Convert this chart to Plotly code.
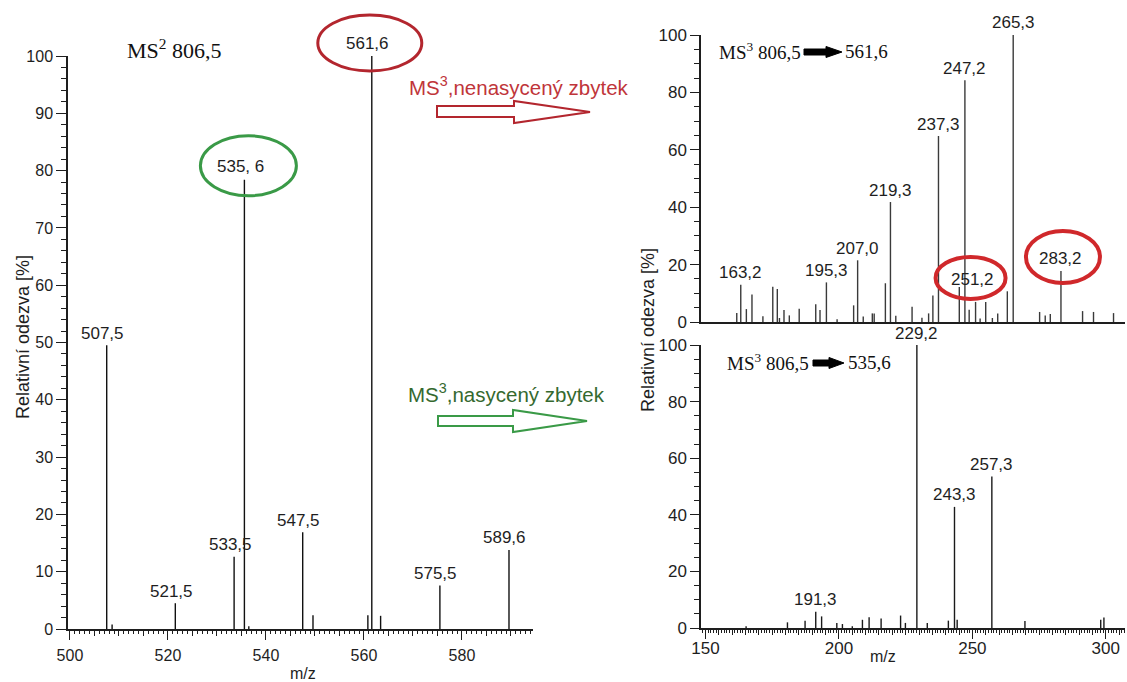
import plotly.graph_objects as go

W, H = 1127, 682

# ---- MS2 spectrum of precursor 806,5 ----
ms2_mz = [507.5, 508.6, 521.5, 533.5, 535.6, 536.5, 547.5, 549.6,
          560.8, 561.6, 563.4, 575.5, 589.6]
ms2_int = [49.5, 0.8, 4.5, 12.6, 78.4, 0.5, 16.9, 2.4,
           2.4, 100.0, 2.3, 7.6, 13.8]
ms2_lab_mz = [507.5, 521.5, 533.5, 535.6, 547.5, 561.6, 575.5, 589.6]
ms2_lab_text = ["507,5", "521,5", "533,5", "535, 6", "547,5", "561,6", "575,5", "589,6"]

# ---- MS3 806,5 -> 561,6 (unsaturated residue) ----
ms3a_mz = [161.7, 163.2, 165.3, 167.4, 171.5, 175.2, 176.9, 177.7, 179.4, 181.4,
           185.1, 191.3, 192.9, 195.3, 199.3, 205.5, 207.0, 209.1, 212.5, 213.2,
           217.4, 219.3, 221.3, 227.4, 231.1, 233.6, 235.2, 237.3, 245.1, 247.2,
           248.8, 251.2, 252.9, 255.0, 257.5, 259.5, 263.1, 265.3, 275.2, 277.3,
           279.2, 283.2, 291.3, 295.4, 302.9]
ms3a_int = [3.1, 13.0, 4.5, 9.6, 2.0, 12.3, 11.5, 1.4, 4.2, 2.3,
            4.6, 6.2, 4.2, 13.8, 1.0, 5.8, 21.5, 1.9, 3.0, 3.0,
            13.5, 41.8, 2.2, 5.3, 1.5, 3.0, 9.2, 64.8, 12.2, 84.2,
            4.3, 7.0, 1.2, 7.0, 1.4, 3.0, 10.7, 100.0, 3.5, 2.3,
            2.8, 17.8, 3.8, 3.5, 3.1]
ms3a_lab_mz = [163.2, 195.3, 207.0, 219.3, 237.3, 247.2, 251.2, 265.3, 283.2]
ms3a_lab_text = ["163,2", "195,3", "207,0", "219,3", "237,3", "247,2", "251,2", "265,3", "283,2"]

# ---- MS3 806,5 -> 535,6 (saturated residue) ----
ms3b_mz = [165.2, 180.7, 187.3, 191.3, 193.5, 199.2, 201.3, 205.0, 208.8, 211.3,
           215.8, 223.1, 224.9, 229.2, 233.1, 241.0, 243.3, 244.3, 257.3, 269.7,
           298.1, 299.3]
ms3b_int = [0.6, 2.0, 2.6, 5.7, 4.1, 1.8, 1.4, 0.6, 2.9, 3.8,
            3.4, 4.4, 1.8, 100.0, 1.8, 2.6, 42.8, 2.9, 53.5, 2.5,
            2.9, 3.7]
ms3b_lab_mz = [191.3, 229.2, 243.3, 257.3]
ms3b_lab_text = ["191,3", "229,2", "243,3", "257,3"]

# tick positions
left_x_labels = [500, 520, 540, 560, 580]
right_x_labels = [150, 200, 250, 300]

SANS = "Liberation Sans, Arial, sans-serif"
SERIF = "Liberation Serif, Times New Roman, serif"
INK = "#1e1e1e"

# panel geometry in pixels (left, right, top, bottom) and axis ranges
LEFT_BOX = (68, 533, 56, 629)
TOP_BOX = (701, 1125, 35, 322)
BOT_BOX = (701, 1125, 345, 628)
LEFT_RANGE = (499.6, 594.5)
RIGHT_RANGE = (148.3, 307.2)


def px(x):
    return x / W


def py(y):
    return 1 - y / H


def to_pixel(box, xr, m, v):
    l, r, t, b = box
    return (l + (m - xr[0]) * (r - l) / (xr[1] - xr[0]),
            b - v * (b - t) / 100.0)


def sticks(mz, inten):
    xs, ys = [], []
    for m, v in zip(mz, inten):
        xs += [m, m, None]
        ys += [0, v, None]
    return xs, ys


fig = go.Figure()

for (mz, it, xa, ya, col) in [
    (ms2_mz, ms2_int, "x", "y", "#111111"),
    (ms3a_mz, ms3a_int, "x2", "y2", "#3a3a3a"),
    (ms3b_mz, ms3b_int, "x3", "y3", "#1a1a1a"),
]:
    xs, ys = sticks(mz, it)
    fig.add_trace(go.Scatter(x=xs, y=ys, mode="lines", xaxis=xa, yaxis=ya,
                             line=dict(color=col, width=1.4),
                             hoverinfo="skip", showlegend=False))

# empty traces carrying the overlay axes used for the 5-unit ticks
fig.add_trace(go.Scatter(x=[], y=[], xaxis="x4", yaxis="y", showlegend=False, hoverinfo="skip"))
fig.add_trace(go.Scatter(x=[], y=[], xaxis="x5", yaxis="y3", showlegend=False, hoverinfo="skip"))

annotations = []
shapes = []


def peak_labels(lab_mz, lab_text, mz, it, xa, ya, xshift=0, special=None):
    lookup = dict(zip(mz, it))
    special = special or {}
    for m, t in zip(lab_mz, lab_text):
        ys, xs = special.get(m, (12, xshift))
        annotations.append(dict(x=m, y=lookup[m], xref=xa, yref=ya, text=t,
                                showarrow=False, xanchor="center", yanchor="middle",
                                yshift=ys, xshift=xs,
                                font=dict(family=SANS, size=17, color=INK)))


peak_labels(ms2_lab_mz, ms2_lab_text, ms2_mz, ms2_int, "x", "y", xshift=-4,
            special={535.6: (13, -4), 561.6: (13, -4)})
peak_labels(ms3a_lab_mz, ms3a_lab_text, ms3a_mz, ms3a_int, "x2", "y2",
            special={251.2: (22, -3)})
peak_labels(ms3b_lab_mz, ms3b_lab_text, ms3b_mz, ms3b_int, "x3", "y3")


# ellipses around highlighted fragments, placed relative to the peak tops
def ring(box, xr, mz, it, m, dx, dy, rx, ry, color, width):
    lookup = dict(zip(mz, it))
    cx, cy = to_pixel(box, xr, m, lookup[m])
    cx += dx
    cy -= dy
    shapes.append(dict(type="circle", xref="paper", yref="paper",
                       x0=px(cx - rx), x1=px(cx + rx), y0=py(cy + ry), y1=py(cy - ry),
                       line=dict(color=color, width=width)))


ring(LEFT_BOX, LEFT_RANGE, ms2_mz, ms2_int, 561.6, -2, 13, 52, 28, "#b3262e", 3)
ring(LEFT_BOX, LEFT_RANGE, ms2_mz, ms2_int, 535.6, 4, 14, 48, 30, "#3a9a47", 3)
ring(TOP_BOX, RIGHT_RANGE, ms3a_mz, ms3a_int, 251.2, -5, 24, 35, 21, "#d0282b", 4)
ring(TOP_BOX, RIGHT_RANGE, ms3a_mz, ms3a_int, 283.2, 2, 14, 37, 26, "#d0282b", 4)


def poly(points, line_color, fill, width):
    d = "M " + " L ".join(f"{px(a):.5f},{py(b):.5f}" for a, b in points) + " Z"
    shapes.append(dict(type="path", xref="paper", yref="paper", path=d,
                       line=dict(color=line_color, width=width), fillcolor=fill))


# hollow arrows pointing to the MS3 spectra
poly([(437, 106), (514, 106), (514, 101), (590, 112), (514, 123), (514, 117), (437, 117)],
     "#b3262e", "white", 2)
poly([(438, 416), (513, 416), (513, 410), (587, 421), (513, 432), (513, 426), (438, 426)],
     "#3a9a47", "white", 2)

# solid arrows in the MS3 titles
poly([(804, 49), (826, 49), (826, 46.5), (842, 52), (826, 57.5), (826, 55), (804, 55)],
     "#000000", "#000000", 1)
poly([(813, 360), (829, 360), (829, 357.5), (844, 363), (829, 368.5), (829, 366), (813, 366)],
     "#000000", "#000000", 1)


def text(x, y, t, size, color=INK, family=SANS, xanchor="center", angle=0):
    annotations.append(dict(x=px(x), y=py(y), xref="paper", yref="paper", text=t,
                            showarrow=False, xanchor=xanchor, yanchor="middle",
                            textangle=angle, font=dict(family=family, size=size, color=color)))


text(174, 49, "MS<sup>2</sup> 806,5", 22, "#111111", SERIF)
text(803, 51, "MS<sup>3</sup> 806,5", 19, "#111111", SERIF, xanchor="right")
text(843, 51, "561,6", 19, "#111111", SERIF, xanchor="left")
text(811, 362, "MS<sup>3</sup> 806,5", 19, "#111111", SERIF, xanchor="right")
text(846, 362, "535,6", 19, "#111111", SERIF, xanchor="left")

text(519, 86, "MS<sup>3</sup>,nenasycený zbytek", 20.5, "#c0353a")
text(506, 393, "MS<sup>3</sup>,nasycený zbytek", 20.5, "#35692f")

text(23, 337, "Relativní odezva [%]", 18, angle=-90)
text(648, 330, "Relativní odezva [%]", 18, angle=-90)
text(303, 673, "m/z", 16)
text(883, 656, "m/z", 16)


def font(size):
    return dict(family=SANS, size=size, color=INK)


def main_x(box, xr, labels, anchor, standoff, size):
    return dict(domain=[px(box[0]), px(box[1])], range=list(xr), anchor=anchor,
                tickmode="array", tickvals=labels, ticktext=[str(v) for v in labels],
                showgrid=False, zeroline=False, showline=True, linecolor=INK,
                linewidth=1.5, ticks="outside", ticklen=9, tickwidth=1.3,
                tickcolor=INK, tickfont=font(size), ticklabelstandoff=standoff,
                minor=dict(ticks="outside", dtick=1, tick0=0, ticklen=3,
                           tickcolor=INK, tickwidth=1), automargin=False)


def mid_x(box, xr, anchor, over):
    return dict(domain=[px(box[0]), px(box[1])], range=list(xr), anchor=anchor,
                overlaying=over, dtick=5, tick0=0, ticks="outside", ticklen=6,
                tickwidth=1.2, tickcolor=INK, showticklabels=False, showline=False,
                showgrid=False, zeroline=False, automargin=False)


def main_y(box, dtick, ticklen, minor_dtick, size):
    return dict(domain=[py(box[3]), py(box[2])], range=[0, 100], dtick=dtick,
                showgrid=False, zeroline=False, showline=True, linecolor=INK,
                linewidth=1.5, ticks="outside", ticklen=ticklen, tickwidth=1.3,
                tickcolor=INK, tickfont=font(size), automargin=False,
                minor=dict(ticks="outside", dtick=minor_dtick, ticklen=5,
                           tickcolor=INK, tickwidth=1))


fig.update_layout(
    width=W, height=H,
    margin=dict(l=0, r=0, t=0, b=0),
    paper_bgcolor="white", plot_bgcolor="white",
    showlegend=False,
    xaxis=main_x(LEFT_BOX, LEFT_RANGE, left_x_labels, "y", 2, 16),
    xaxis4=mid_x(LEFT_BOX, LEFT_RANGE, "y", "x"),
    yaxis=dict(main_y(LEFT_BOX, 10, 10, 2, 16), anchor="x"),
    xaxis2=dict(domain=[px(TOP_BOX[0]), px(TOP_BOX[1])], range=list(RIGHT_RANGE),
                anchor="y2", showgrid=False, zeroline=False, showline=True,
                linecolor=INK, linewidth=1.5, ticks="", showticklabels=False,
                automargin=False),
    yaxis2=dict(main_y(TOP_BOX, 20, 9, 5, 17), anchor="x2"),
    xaxis3=main_x(BOT_BOX, RIGHT_RANGE, right_x_labels, "y3", -5, 17),
    xaxis5=mid_x(BOT_BOX, RIGHT_RANGE, "y3", "x3"),
    yaxis3=dict(main_y(BOT_BOX, 20, 9, 5, 17), anchor="x3"),
    annotations=annotations,
    shapes=shapes,
)

fig.write_html("out.html")
